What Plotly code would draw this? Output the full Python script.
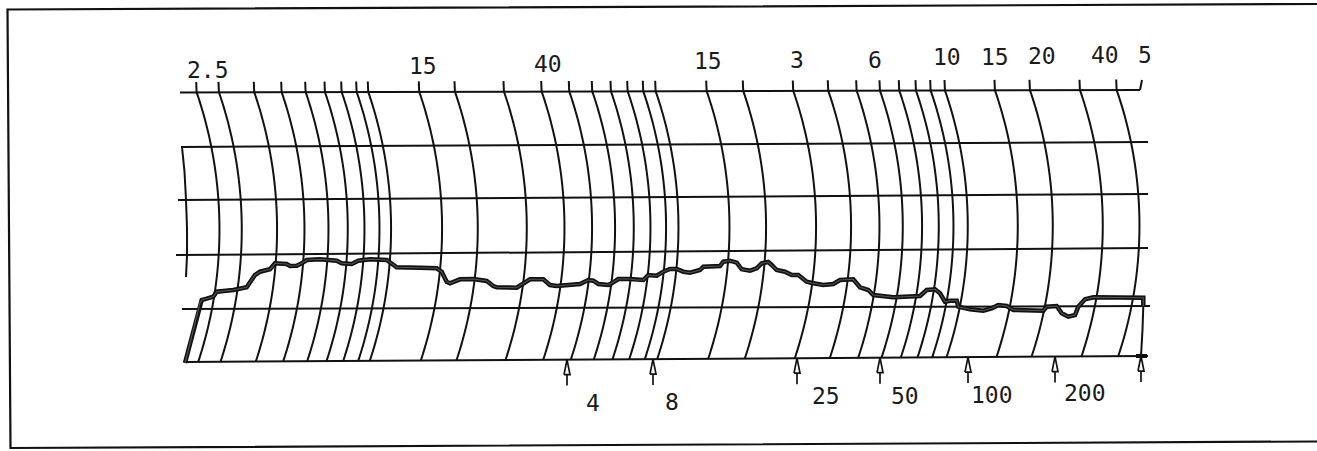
import numpy as np
import plotly.graph_objects as go

W, H = 1317, 451

# ---- chart-paper grid (x: chart units along the strip, y: chart units downward) ----
grid_left_y = [92.5, 147, 200, 255, 309, 362]
grid_right_y = [90, 142, 194, 248, 306, 356]
grid_start_x = [180, 181, 178, 176, 182, 184]
grid_end_x = [1140, 1148, 1148, 1148, 1150, 1148]
GX0, GX1 = 180.0, 1148.0

# top positions of the curved frequency lines
arc_top_x = [196.7, 219, 254.3, 281.7, 305.7, 325, 341.7, 356.7, 368.3, 419.3, 455,
             504, 541.7, 569.3, 592.3, 611, 627.7, 643.3, 655.7, 706.7, 743.3, 793.3,
             828.3, 856.7, 880, 899.3, 916, 930.7, 945, 995, 1030, 1080, 1116.7]

# partial arc at the left edge
edge_arc_x = [182, 184.5, 186, 187, 187, 186]
edge_arc_y = [147, 172, 200, 228, 255, 277]

# labels
top_labels = ["2.5", "15", "40", "15", "3", "6", "10", "15", "20", "40", "5"]
top_label_x = [208, 423, 548, 708, 797, 875, 947, 995, 1042, 1105, 1145]
top_label_y = [70, 65.7, 64.2, 60.8, 60, 60, 56.7, 56.7, 56, 55, 55]

arrow_x = [567, 653, 797, 880, 968, 1055, 1141]
bottom_labels = ["4", "8", "25", "50", "100", "200"]
bottom_label_x = [593, 672, 826, 905, 992, 1085]
bottom_label_y = [403, 402, 396, 396, 395, 393]

# recorded trace
trace_x = [185, 200, 201.7, 206.7, 213.3, 216.7, 230, 233.3, 246.7, 251.7, 255, 260, 270, 275,
           286.7, 290, 296.7, 301.7, 306.7, 320, 336.7, 341.7, 351.7, 358.3, 370, 386.7, 393.3,
           396.7, 420, 436.7, 441.7, 446.7, 450, 460, 473.3, 486.7, 493.3, 496.7, 516.7, 523.3,
           530, 543.3, 550, 556.7, 580, 588.3, 593.3, 598.3, 608.3, 611.7, 618.3, 630, 636.7,
           643.3, 648.3, 656.7, 663.3, 670, 676.7, 683.3, 690, 700, 703.3, 720, 723.3, 730,
           736.7, 741.7, 750, 756.7, 761.7, 768.3, 771.7, 776.7, 785, 791.7, 798.3, 806.7, 812,
           823.3, 833.3, 840, 853.3, 860, 868.3, 873.3, 893.3, 920, 926.7, 935, 940, 945, 950,
           956.7, 958.3, 970, 983.3, 991.7, 998.3, 1006.7, 1013.3, 1043.3, 1046.7, 1056.7,
           1061.7, 1068.3, 1075, 1078.3, 1085, 1093.3, 1143.3, 1143.3]
trace_y = [363, 303, 300, 298.7, 296.7, 291.7, 290.7, 290, 287.3, 280, 275, 271.7, 269.3, 263.3,
           264, 266, 265.7, 263.3, 260, 259.3, 260.7, 263.3, 264, 260.7, 259.3, 260, 265,
           267.3, 267.7, 268.3, 271.7, 281.7, 283.3, 279.3, 279, 281, 286, 287.3, 287.7, 283.3,
           279.3, 279.3, 285, 286, 284, 280, 280.7, 284, 285, 283.3, 279, 279, 280,
           280, 275, 275.7, 271.7, 269, 269, 271.7, 272.7, 270, 266.7, 266, 261.7, 260.7,
           262.7, 269.3, 270.7, 268.3, 263.3, 262, 265, 270, 271.7, 275, 275, 281.7, 283,
           285, 284, 280, 279.3, 287.3, 290, 295, 297.3, 296, 290, 289.3, 293.3, 301.7, 300.7,
           300.7, 306.7, 309.3, 310.7, 308.3, 305, 306, 310, 310.7, 306.7, 306,
           313.3, 316.7, 315, 306.7, 299.3, 297.3, 297.7, 306]
tail_x = [1143.3, 1142.5, 1141]
tail_y = [306, 330, 356]

# outer frame
frame_x = [1317, 7.5, 10.5, 1317]
frame_y = [4, 9.5, 448, 441.5]


def line_y(i, x):
    t = (x - GX0) / (GX1 - GX0)
    return grid_left_y[i] + t * (grid_right_y[i] - grid_left_y[i])


fig = go.Figure()
BLACK = "#111111"

# frame
fig.add_trace(go.Scatter(x=frame_x, y=frame_y, mode="lines",
                         line=dict(color=BLACK, width=2.2), hoverinfo="skip"))

# horizontal grid lines
hx, hy = [], []
for i in range(6):
    x0, x1 = grid_start_x[i], grid_end_x[i]
    hx += [x0, x1, None]
    hy += [line_y(i, x0), line_y(i, x1), None]
# end tick of top line
hx += [grid_end_x[0], grid_end_x[0] + 2, None]
hy += [line_y(0, grid_end_x[0]), line_y(0, grid_end_x[0]) - 10, None]
fig.add_trace(go.Scatter(x=hx, y=hy, mode="lines",
                         line=dict(color=BLACK, width=2), hoverinfo="skip"))

# curved lines
ax, ay = [], []
s = 22.0
for xt in arc_top_x:
    yt = line_y(0, xt)
    yb = line_y(5, xt)
    xb = xt + 1.5
    h = (yb - yt) / 2
    R = (h * h + s * s) / (2 * s)
    ys = np.linspace(yt, yb, 60)
    d = ys - (yt + yb) / 2
    xs = xt + (xb - xt) * (ys - yt) / (yb - yt) + s - (R - np.sqrt(R * R - d * d))
    ax += [xt - 0.5] + list(xs) + [None]
    ay += [yt - 10.5] + list(ys) + [None]
ax += edge_arc_x + [None]
ay += edge_arc_y + [None]
ax += tail_x + [None]
ay += tail_y + [None]
fig.add_trace(go.Scatter(x=ax, y=ay, mode="lines",
                         line=dict(color=BLACK, width=2, shape="spline", smoothing=0.3),
                         hoverinfo="skip"))

# arrows below the strip
arx, ary = [], []
for x in arrow_x:
    yb = line_y(5, x)
    arx += [x - 3, x, x + 3, x - 3, None, x, x, None]
    ary += [yb + 15, yb, yb + 15, yb + 15, None, yb + 15, yb + 26, None]
fig.add_trace(go.Scatter(x=arx, y=ary, mode="lines",
                         line=dict(color=BLACK, width=1.7), hoverinfo="skip"))

# recorded trace: dark outline with a grey core
fig.add_trace(go.Scatter(x=trace_x, y=trace_y, mode="lines",
                         line=dict(color=BLACK, width=4.5), hoverinfo="skip"))
fig.add_trace(go.Scatter(x=trace_x, y=trace_y, mode="lines",
                         line=dict(color="#555555", width=1.1), hoverinfo="skip"))
# small pen mark at the bottom right
fig.add_trace(go.Scatter(x=[1136, 1147], y=[line_y(5, 1136), line_y(5, 1147)], mode="lines",
                         line=dict(color=BLACK, width=4), hoverinfo="skip"))

FONT = dict(family="DejaVu Sans Mono", size=23, color="#1a1a1a")
for t, x, y in zip(top_labels, top_label_x, top_label_y):
    fig.add_annotation(x=x, y=y, text=t, showarrow=False, xanchor="center",
                       yanchor="middle", font=FONT)
for t, x, y in zip(bottom_labels, bottom_label_x, bottom_label_y):
    fig.add_annotation(x=x, y=y, text=t, showarrow=False, xanchor="center",
                       yanchor="middle", font=FONT)

fig.update_layout(
    width=W, height=H, margin=dict(l=0, r=0, t=0, b=0),
    paper_bgcolor="white", plot_bgcolor="white", showlegend=False,
    xaxis=dict(range=[0, W], visible=False, fixedrange=True),
    yaxis=dict(range=[H, 0], visible=False, fixedrange=True),
)
fig.write_html("out.html")
